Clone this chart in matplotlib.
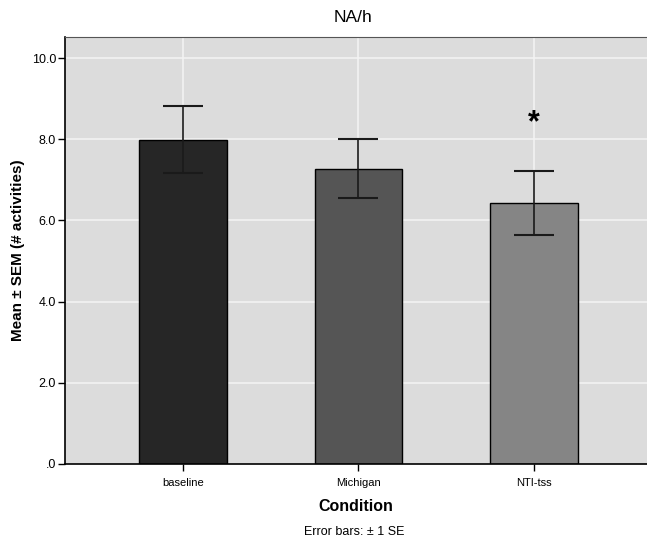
import matplotlib
matplotlib.use('Agg')
from matplotlib import pyplot as plt
import numpy as np

# Data
conditions = ['baseline', 'Michigan', 'NTI-tss']
means = [7.98, 7.28, 6.43]
err_upper = [8.81, 8.00, 7.22]
err_lower = [7.17, 6.55, 5.64]
bar_colors = ['#262626', '#555555', '#858585']
yticks = [0, 2, 4, 6, 8, 10]
ytick_labels = ['.0', '2.0', '4.0', '6.0', '8.0', '10.0']
star_y = 8.4

plt.rcParams['font.family'] = ['Liberation Sans', 'DejaVu Sans']

fig = plt.figure(figsize=(6.47, 5.41), dpi=100)
# axes: left 65px, right past image edge, top 37px, bottom 464px
ax = fig.add_axes([65 / 647, 1 - 464 / 541, 1 - 65 / 647, (464 - 37) / 541])
ax.set_facecolor('#dcdcdc')

x = np.arange(len(conditions))
ax.set_axisbelow(True)
for xi in x:
    ax.axvline(xi, color='#f4f4f4', linewidth=1.1, zorder=0)
for yt in yticks[1:]:
    ax.axhline(yt, color='#f4f4f4', linewidth=1.1, zorder=0)

ax.bar(x, means, width=0.5, color=bar_colors, edgecolor='black', linewidth=1.0, zorder=2)

m = np.array(means)
yerr = np.array([m - np.array(err_lower), np.array(err_upper) - m])
ax.errorbar(x, means, yerr=yerr, fmt='none', ecolor='#1a1a1a', elinewidth=1.2,
            capsize=14.4, capthick=1.5, zorder=3)

ax.text(x[2], star_y, '*', ha='center', va='center', fontsize=22, fontweight='bold', zorder=4)

ax.set_xlim(-0.672, 2.645)
ax.set_ylim(0, 10.52)
ax.set_xticks(x)
ax.set_xticklabels(conditions, fontsize=8)
ax.set_yticks(yticks)
ax.set_yticklabels(ytick_labels, fontsize=9)
ax.tick_params(axis='y', direction='out', length=5, width=1.0, color='black', pad=1.5)
ax.tick_params(axis='x', direction='out', length=5, width=1.0, color='black', pad=5)

for side in ['left', 'bottom']:
    ax.spines[side].set_color('black')
    ax.spines[side].set_linewidth(1.2)
ax.spines['top'].set_color('#555555')
ax.spines['right'].set_visible(False)

ax.set_ylabel('Mean \u00b1 SEM (# activities)', fontsize=11, fontweight='bold', labelpad=5)
ax.set_xlabel('Condition', fontsize=11.5, fontweight='bold', labelpad=8)
fig.text(353 / 647, 1 - 17 / 541, 'NA/h', ha='center', va='center', fontsize=12.5)
fig.text(354 / 647, 1 - 532 / 541, 'Error bars: \u00b1 1 SE', ha='center', va='center', fontsize=9)

plt.savefig('out.png', dpi=100)
